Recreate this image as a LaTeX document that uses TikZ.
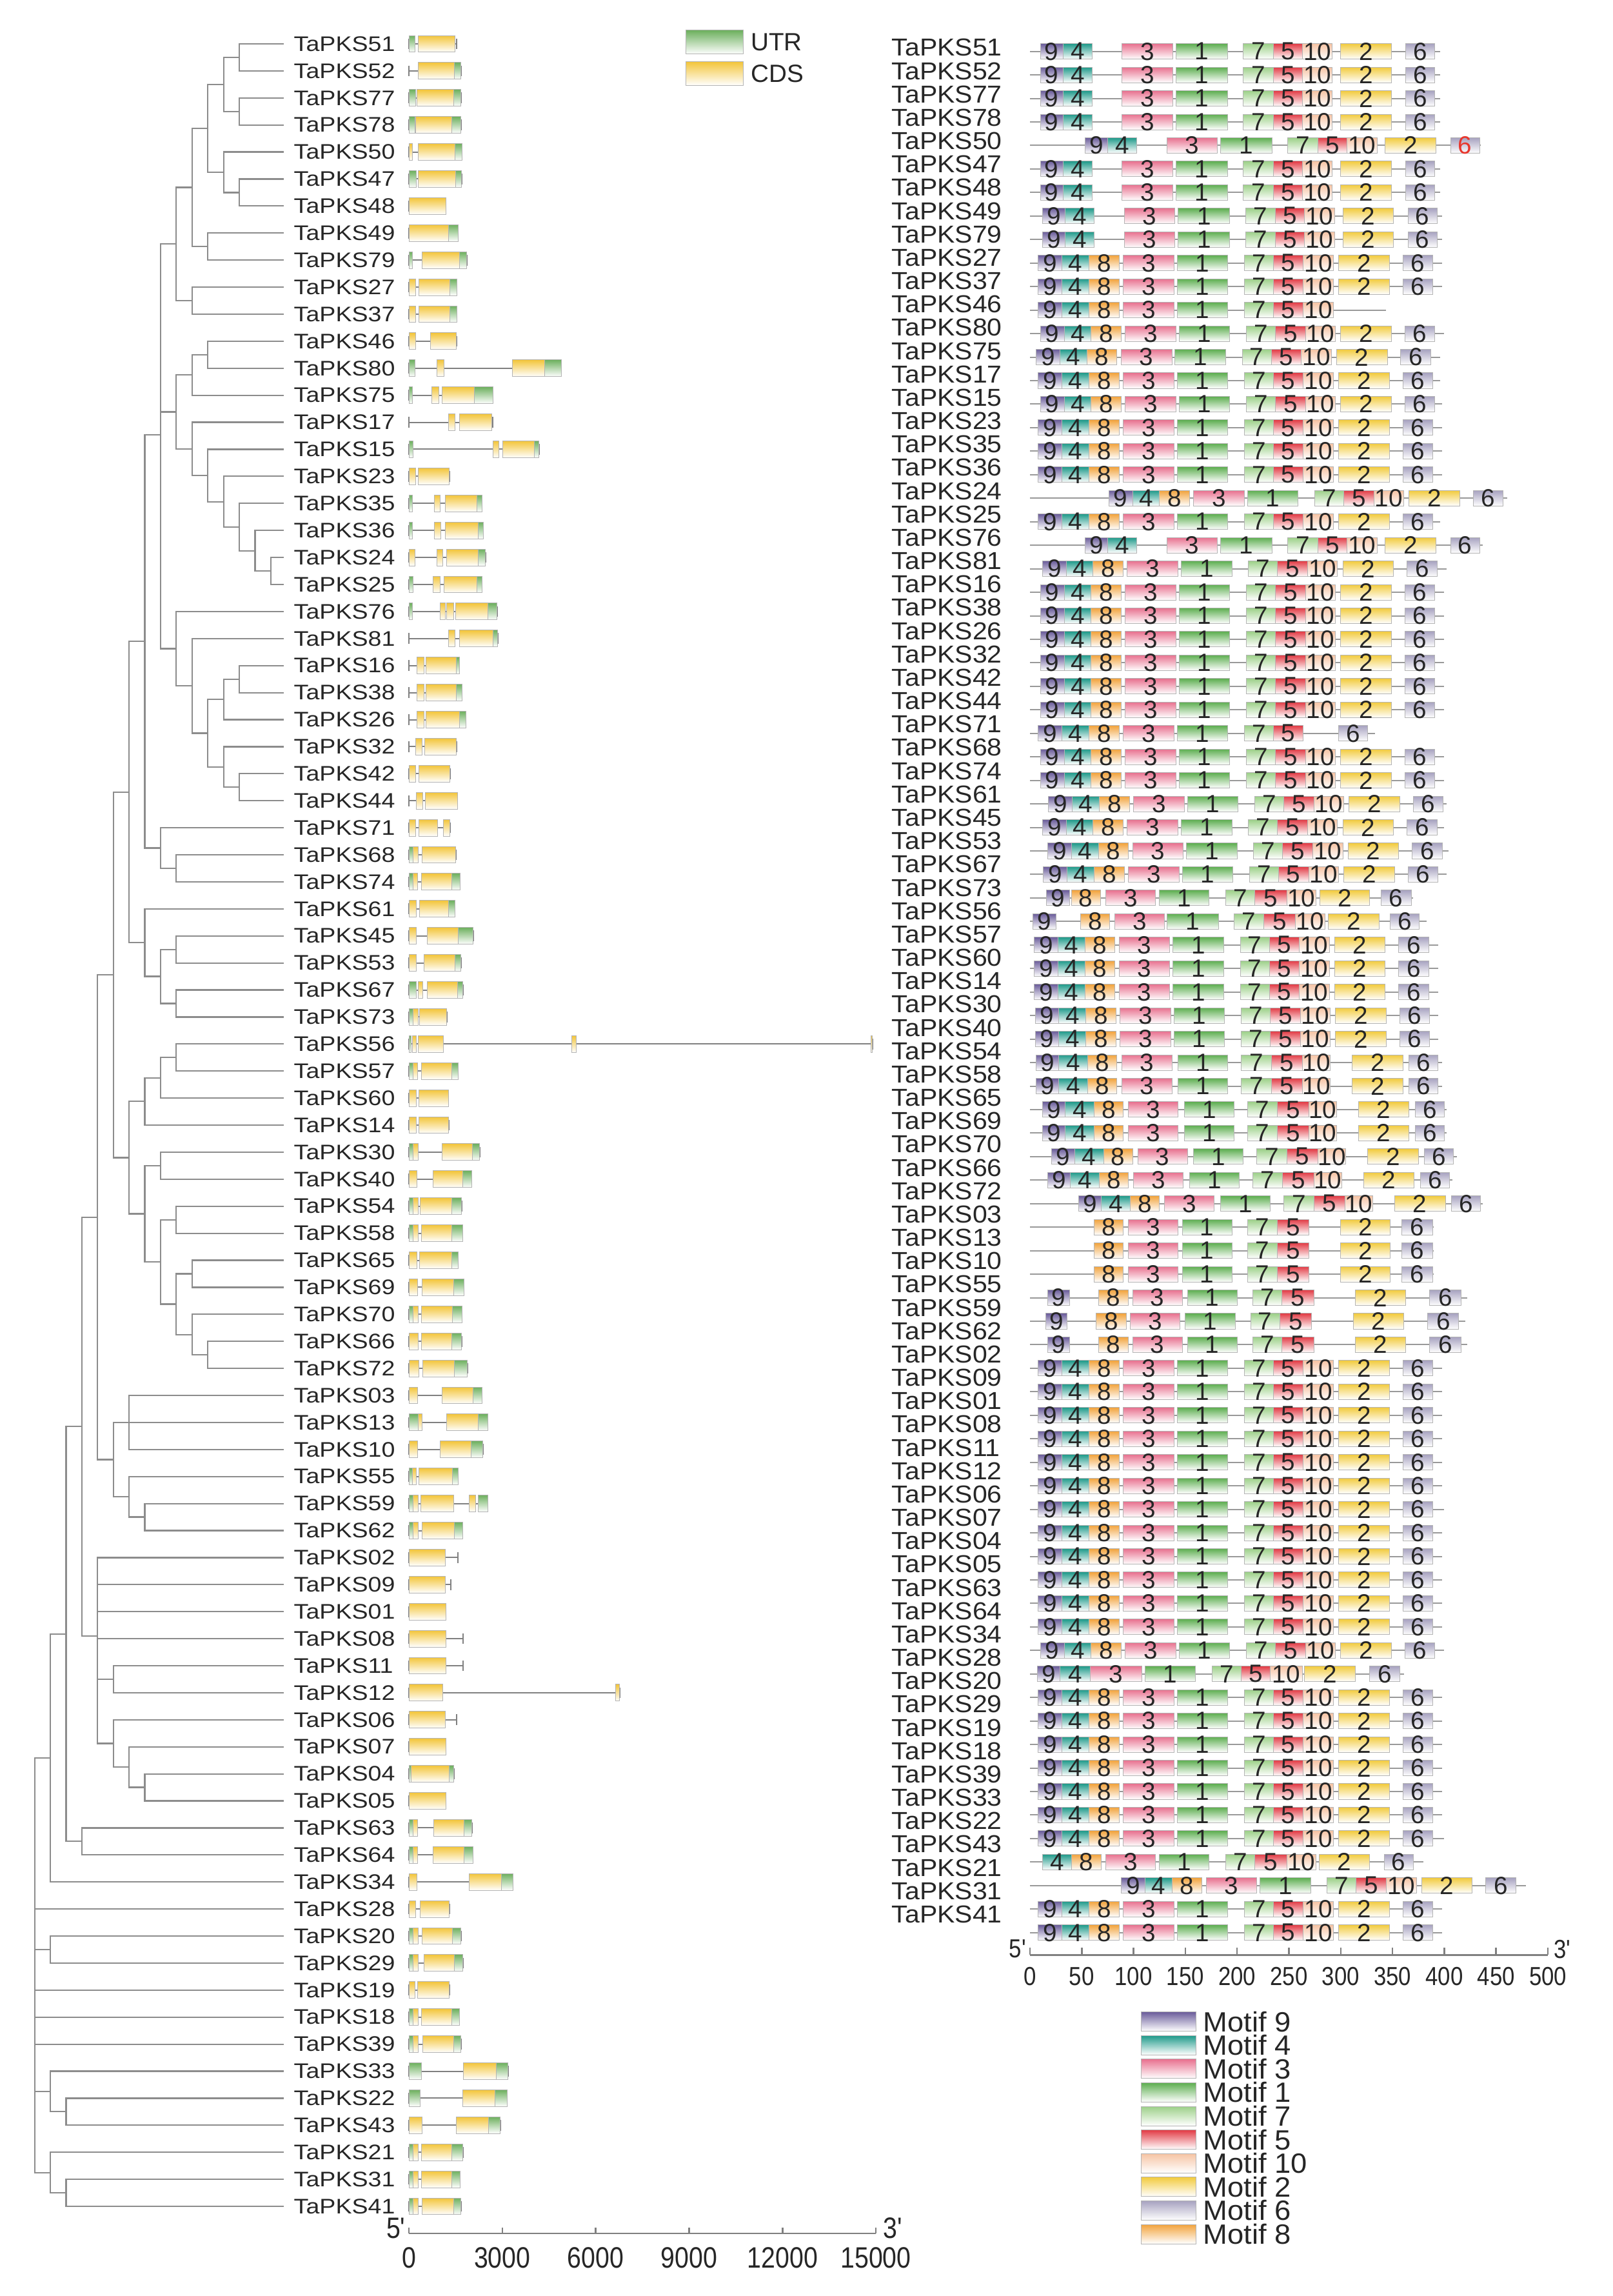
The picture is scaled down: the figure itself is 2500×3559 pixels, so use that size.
\documentclass[tikz,border=0pt]{standalone}
\usepackage{fontspec}
\setmainfont{Liberation Sans}
\newfontfamily\labelsf[FakeStretch=1.15]{Liberation Sans}
\newfontfamily\rightsf[FakeStretch=1.08]{Liberation Sans}
\newfontfamily\legendsf[FakeStretch=1.05]{Liberation Sans}
\newfontfamily\narrowsf[FakeStretch=0.86]{Liberation Sans}
\usetikzlibrary{positioning}

\definecolor{treegrey}{HTML}{8C8C8C}
\definecolor{introngrey}{HTML}{808080}
\definecolor{edgegrey}{HTML}{B4B4B4}
\definecolor{exonc}{HTML}{F3C53A}
\definecolor{exonu}{HTML}{6DB05E}
\definecolor{mot9}{HTML}{6A5C9A}
\definecolor{mot4}{HTML}{1F9A8A}
\definecolor{mot3}{HTML}{E8718F}
\definecolor{mot1}{HTML}{5DAE50}
\definecolor{mot7}{HTML}{9CD088}
\definecolor{mot5}{HTML}{E23B45}
\definecolor{mot10}{HTML}{F6C3A3}
\definecolor{mot2}{HTML}{F2CB3E}
\definecolor{mot6}{HTML}{A7A2C0}
\definecolor{mot8}{HTML}{F2A33C}
\definecolor{sixred}{HTML}{E8372D}

% genes in tree order
\newcommand\genelist{51,52,77,78,50,47,48,49,79,27,37,46,80,75,17,15,23,35,36,24,%
25,76,81,16,38,26,32,42,44,71,68,74,61,45,53,67,73,56,57,60,14,30,40,54,58,65,69,%
70,66,72,03,13,10,55,59,62,02,09,01,08,11,12,06,07,04,05,63,64,34,28,20,29,19,18,%
39,33,22,43,21,31,41}

% motif layouts (motif/start/end in aa)
\newcommand\patS{9/8/31,4/31/57,8/57/86,3/90/139,1/142/191,7/207/235,5/235/264,10/264/293,2/298/347,6/360/389}
\newcommand\patA{9/10/32,4/32/60,3/89/138,1/141/191,7/206/235,5/235/263,10/263/292,2/300/349,6/363/391}
\newcommand\patT{9/8/31,4/31/57,8/57/86,3/90/139,1/142/191,7/207/235,5/235/264,10/264/293}
\newcommand\patK{9/8/31,4/31/57,8/57/86,3/90/139,1/142/191,7/207/235,5/235/264,6/298/326}
\newcommand\patB{9/16/38,8/40/68,3/73/121,1/125/173,7/189/217,5/217/248,10/248/276,2/280/328,6/339/368}
\newcommand\patC{9/3/25,8/49/77,3/82/130,1/132/182,7/197/226,5/226/256,10/256/285,2/288/337,6/348/376}
\newcommand\patL{9/12/34,4/34/62,8/62/90,3/95/143,1/149/197,7/210/239,5/239/269,10/269/296,2/317/366,6/372/400}
\newcommand\patD{8/62/90,3/95/143,1/147/195,7/210/239,5/239/269,2/300/348,6/359/389}
\newcommand\patE{9/17/38,8/66/95,3/99/147,1/152/200,7/215/243,5/243/274,2/314/363,6/386/416}
\newcommand\patF{9/7/29,4/29/58,3/58/108,1/111/160,7/176/204,5/204/232,10/232/263,2/265/314,6/328/357}
\newcommand\patG{4/12/40,8/40/69,3/73/121,1/125/173,7/189/217,5/217/248,10/248/276,2/279/328,6/342/370}

\tikzset{%
    branch/.style={draw=treegrey, line width=0.22mm},
    intron/.style={draw=introngrey, line width=0.2mm},
    exon/.style={draw=edgegrey, line width=0.1mm, bottom color=white},
    motif/.style={draw=edgegrey, line width=0.1mm, bottom color=white},
    bar/.style={draw=introngrey!80, line width=0.2mm},
    axisline/.style={draw=introngrey, line width=0.25mm},
    leaflab/.style={anchor=west, inner sep=0pt, text=black!85,
        font=\labelsf\fontsize{9.3}{11}\selectfont},
    motlab/.style={anchor=west, inner sep=0pt, text=black!85,
        font=\rightsf\fontsize{10.8}{12}\selectfont},
    motnum/.style={inner sep=0pt, text=black!85,
        font=\fontsize{11}{12}\selectfont},
    ticklab/.style={inner sep=0pt, text=black!85,
        font=\narrowsf\fontsize{13}{15}\selectfont},
    aalab/.style={inner sep=0pt, text=black!85,
        font=\narrowsf\fontsize{11.5}{13}\selectfont},
    keybox/.style={draw=edgegrey, line width=0.1mm, bottom color=white,
        inner sep=0pt},
    legtext/.style={anchor=west, inner sep=0pt, text=black!85,
        font=\fontsize{11}{13}\selectfont},
    motlegtext/.style={anchor=west, inner sep=0pt, text=black!85,
        font=\legendsf\fontsize{12.3}{14}\selectfont},
}

\begin{document}
\begin{tikzpicture}[x=0.1mm, y=-0.1mm]
    \useasboundingbox (0,0) rectangle (2500,3559);

    %%%%%%%%
    % Tree %
    %%%%%%%%
    \begin{scope}[shift={(0,26.1)}, y=-4.19mm]
        \foreach \g [count=\r] in \genelist {%
            \coordinate (t\g) at (440,\r);
            \node[leaflab] (g\g) at (455,\r) {TaPKS\g};
        };
        % inner nodes: name/depth/row
        \foreach \n/\d/\r in {%
            n1/13/1.5, n2/13/3.5, n3/12/2.5, n4/13/6.5, n5/12/5.75,
            n6/11/4.125, n7/11/8.5, n8/10/6.3125, n9/10/10.5, n10/9/8.40625,
            n11/11/12.5, n12/10/13.25, n13/15/20.5, n14/14/19.75, n15/13/18.875,
            n16/12/17.9375, n17/11/16.96875, n18/10/15.984, n19/9/14.617,
            n20/13/24.5, n21/12/25.25, n22/13/28.5, n23/12/27.75, n24/11/26.5,
            n25/10/24.75, n26/9/23.375, n27/8/15.466, n28/9/31.5, n29/8/30.75,
            n30/7/23.108, n31/9/34.5, n32/9/36.5, n33/8/35.5, n34/7/34.25,
            n35/6/28.679, n36/9/38.5, n37/8/39.25, n38/7/40.125, n39/8/42.5,
            n40/9/44.5, n41/10/46.5, n42/11/49.5, n43/10/48.75, n44/9/47.625,
            n45/8/46.0625, n46/7/44.281, n47/6/42.203, n48/5/35.441, n49/6/52,
            n50/7/55.5, n51/6/54.75, n52/5/53.375, n53/4/44.408, n54/5/61.5,
            n55/7/65.5, n56/6/64.75, n57/5/63.875, n58/4/59.896, n59/3/52.152,
            n60/3/67.5, n61/2/59.826, n62/1/64.413, n63/1/71.5, n64/2/77.5,
            n65/1/76.75, n66/2/80.5, n67/1/79.75, root/0/73.05%
        }{%
            \coordinate (\n) at ({53.6+24.42*\d},\r);
        };
        \foreach \p/\c in {%
            n1/t51, n1/t52, n2/t77, n2/t78, n3/n1, n3/n2, n4/t47, n4/t48,
            n5/t50, n5/n4, n6/n3, n6/n5, n7/t49, n7/t79, n8/n6, n8/n7,
            n9/t27, n9/t37, n10/n8, n10/n9, n11/t46, n11/t80, n12/n11, n12/t75,
            n13/t24, n13/t25, n14/t36, n14/n13, n15/t35, n15/n14, n16/t23,
            n16/n15, n17/t15, n17/n16, n18/t17, n18/n17, n19/n12, n19/n18,
            n20/t16, n20/t38, n21/n20, n21/t26, n22/t42, n22/t44, n23/t32,
            n23/n22, n24/n21, n24/n23, n25/t81, n25/n24, n26/t76, n26/n25,
            n27/n10, n27/n19, n27/n26, n28/t68, n28/t74, n29/t71, n29/n28,
            n30/n27, n30/n29, n31/t45, n31/t53, n32/t67, n32/t73, n33/n31,
            n33/n32, n34/t61, n34/n33, n35/n30, n35/n34, n36/t56, n36/t57,
            n37/n36, n37/t60, n38/n37, n38/t14, n39/t30, n39/t40, n40/t54,
            n40/t58, n41/t65, n41/t69, n42/t66, n42/t72, n43/t70, n43/n42,
            n44/n41, n44/n43, n45/n40, n45/n44, n46/n39, n46/n45, n47/n38,
            n47/n46, n48/n35, n48/n47, n49/t03, n49/t13, n49/t10, n50/t59,
            n50/t62, n51/t55, n51/n50, n52/n49, n52/n51, n53/n48, n53/n52,
            n54/t11, n54/t12, n55/t04, n55/t05, n56/t07, n56/n55, n57/t06,
            n57/n56, n58/t02, n58/t09, n58/t01, n58/t08, n58/n54, n58/n57,
            n59/n53, n59/n58, n60/t63, n60/t64, n61/n59, n61/n60, n62/n61,
            n62/t34, n63/t20, n63/t29, n64/t22, n64/t43, n65/t33, n65/n64,
            n66/t31, n66/t41, n67/t21, n67/n66, root/n62, root/t28, root/n63,
            root/t19, root/t18, root/t39, root/n65, root/n67%
        }{%
            \draw[branch] (\p) |- (\c);
        };
    \end{scope}

    %%%%%%%%%%%%%%%%%%%
    % Gene structures %
    %%%%%%%%%%%%%%%%%%%
    \begin{scope}[shift={(634,26.1)}, x=4.827mm, y=-4.19mm]
        \foreach \r/\len/\parts in {%
            1/1.53/{u/0/0.19,c/0.30/1.49},
            2/1.67/{c/0.30/1.46,u/1.46/1.67},
            3/1.67/{u/0/0.21,c/0.26/1.43,u/1.43/1.67},
            4/1.67/{u/0/0.19,c/0.21/1.37,u/1.37/1.67},
            5/1.70/{c/0/0.11,c/0.30/1.49,u/1.49/1.70},
            6/1.69/{u/0/0.24,c/0.30/1.51,u/1.51/1.69},
            7/1.19/{c/0/1.19},
            8/1.58/{c/0/1.28,u/1.28/1.58},
            9/1.86/{u/0/0.11,c/0.43/1.62,u/1.62/1.86},
            10/1.54/{c/0/0.21,c/0.32/1.32,u/1.32/1.54},
            11/1.54/{c/0/0.21,c/0.32/1.32,u/1.32/1.54},
            12/1.53/{c/0/0.21,c/0.69/1.53},
            13/4.89/{u/0/0.19,c/0.90/1.12,c/3.33/4.36,u/4.36/4.89},
            14/2.70/{u/0/0.12,c/0.74/0.96,c/1.07/2.10,u/2.10/2.70},
            15/2.70/{c/1.27/1.48,c/1.62/2.67},
            16/4.18/{u/0/0.14,c/2.70/2.90,c/3.01/4.02,u/4.02/4.18},
            17/1.30/{c/0/0.21,c/0.30/1.30},
            18/2.35/{u/0/0.11,c/0.81/1.01,c/1.16/2.18,u/2.18/2.35},
            19/2.39/{u/0/0.11,c/0.81/1.03,c/1.16/2.22,u/2.22/2.39},
            20/2.46/{c/0/0.19,c/0.90/1.09,c/1.21/2.22,u/2.22/2.46},
            21/2.35/{u/0/0.14,c/0.77/1.01,c/1.12/2.18,u/2.18/2.35},
            22/2.83/{u/0/0.11,c/1.00/1.16,c/1.21/1.44,c/1.51/2.53,u/2.53/2.83},
            23/2.85/{c/1.27/1.48,c/1.62/2.70,u/2.70/2.85},
            24/1.62/{c/0.26/0.48,c/0.54/1.53,u/1.53/1.62},
            25/1.70/{c/0.26/0.48,c/0.54/1.53,u/1.53/1.70},
            26/1.83/{c/0.26/0.48,c/0.54/1.62,u/1.62/1.83},
            27/1.53/{c/0.21/0.42,c/0.51/1.53},
            28/1.32/{c/0/0.21,c/0.32/1.32},
            29/1.56/{c/0.24/0.45,c/0.53/1.56},
            30/1.32/{c/0/0.21,c/0.32/0.93,c/1.11/1.32},
            31/1.51/{u/0/0.14,c/0.14/0.30,c/0.43/1.51},
            32/1.64/{u/0/0.14,c/0.14/0.27,c/0.40/1.37,u/1.37/1.64},
            33/1.48/{c/0/0.24,c/0.35/1.28,u/1.28/1.48},
            34/2.07/{c/0/0.24,c/0.58/1.58,u/1.58/2.07},
            35/1.67/{c/0/0.24,c/0.49/1.48,u/1.48/1.67},
            36/1.74/{u/0/0.24,c/0.30/0.45,c/0.58/1.56,u/1.56/1.74},
            37/1.22/{u/0/0.14,c/0.14/0.30,c/0.35/1.22},
            38/14.89/{u/0/0.08,c/0.11/0.24,c/0.30/1.11,c/5.23/5.37,c/14.84/14.89},
            39/1.58/{u/0/0.14,c/0.14/0.27,c/0.40/1.37,u/1.37/1.58},
            40/1.27/{c/0/0.24,c/0.32/1.27},
            41/1.28/{c/0/0.24,c/0.32/1.28},
            42/2.27/{u/0/0.14,c/0.14/0.30,c/1.06/2.04,u/2.04/2.27},
            43/2.01/{c/0/0.26,c/0.77/1.72,u/1.72/2.01},
            44/1.69/{u/0/0.14,c/0.14/0.30,c/0.37/1.37,u/1.37/1.69},
            45/1.72/{u/0/0.14,c/0.14/0.30,c/0.40/1.37,u/1.37/1.72},
            46/1.58/{c/0/0.26,c/0.35/1.37,u/1.37/1.58},
            47/1.77/{c/0/0.27,c/0.43/1.43,u/1.43/1.77},
            48/1.70/{u/0/0.14,c/0.14/0.30,c/0.40/1.40,u/1.40/1.70},
            49/1.69/{c/0/0.30,c/0.40/1.38,u/1.38/1.69},
            50/1.88/{c/0/0.32,c/0.45/1.46,u/1.46/1.88},
            51/2.35/{c/0/0.27,c/1.07/2.06,u/2.06/2.35},
            52/2.53/{u/0/0.30,c/0.30/0.42,c/1.21/2.22,u/2.22/2.53},
            53/2.38/{c/0/0.27,c/1.00/1.99,u/1.99/2.38},
            54/1.58/{u/0/0.11,c/0.11/0.24,c/0.33/1.40,u/1.40/1.58},
            55/2.53/{u/0/0.14,c/0.14/0.30,c/0.38/1.43,c/1.93/2.14,u/2.22/2.53},
            56/1.72/{u/0/0.14,c/0.14/0.30,c/0.43/1.46,u/1.46/1.72},
            57/1.58/{c/0/1.16},
            58/1.35/{c/0/1.16},
            59/1.19/{c/0/1.19},
            60/1.74/{c/0/1.19},
            61/1.74/{c/0/1.19},
            62/6.77/{c/0/1.09,c/6.63/6.77},
            63/1.53/{c/0/1.16},
            64/1.19/{c/0/1.19},
            65/1.44/{u/0/0.08,c/0.08/1.30,u/1.30/1.44},
            66/1.19/{c/0/1.19},
            67/2.02/{u/0/0.14,c/0.14/0.27,c/0.79/1.77,u/1.77/2.02},
            68/2.06/{u/0/0.14,c/0.14/0.27,c/0.77/1.77,u/1.77/2.06},
            69/3.34/{c/0/0.26,c/1.93/2.97,u/2.97/3.34},
            70/1.30/{c/0/0.21,c/0.37/1.30},
            71/1.67/{u/0/0.14,c/0.14/0.30,c/0.43/1.40,u/1.40/1.67},
            72/1.74/{u/0/0.14,c/0.14/0.30,c/0.49/1.46,u/1.46/1.74},
            73/1.30/{c/0/0.19,c/0.27/1.30},
            74/1.62/{u/0/0.14,c/0.14/0.30,c/0.40/1.38,u/1.38/1.62},
            75/1.67/{u/0/0.14,c/0.14/0.30,c/0.45/1.44,u/1.44/1.67},
            76/3.18/{u/0/0.40,c/1.75/2.80,u/2.80/3.18},
            77/3.15/{u/0/0.37,c/1.72/2.76,u/2.76/3.15},
            78/2.94/{c/0/0.42,c/1.53/2.55,u/2.55/2.94},
            79/1.74/{u/0/0.14,c/0.14/0.30,c/0.40/1.38,u/1.38/1.74},
            80/1.64/{u/0/0.14,c/0.14/0.30,c/0.40/1.38,u/1.38/1.64},
            81/1.67/{u/0/0.14,c/0.14/0.30,c/0.42/1.43,u/1.43/1.67}%
        }{%
            \draw[intron] (0,\r) -- (\len,\r);
            \draw[intron] (0,{\r-0.2}) -- (0,{\r+0.2})
                (\len,{\r-0.2}) -- (\len,{\r+0.2});
            \foreach \t/\a/\b in \parts {%
                \shade[exon, top color=exon\t] (\a,{\r-0.31}) rectangle (\b,{\r+0.31});
            };
        };

        % scale
        \draw[axisline] (0,82) -- (15,82);
        \foreach \k in {0,3,...,15}{%
            \draw[axisline] (\k,82) -- (\k,81.78);
            \node[ticklab] (kb\k) at (\k,82.9) {\ifnum\k=0 0\else\k000\fi};
        };
        \node[ticklab] (kb5p) at (-0.42,81.8) {5'};
        \node[ticklab] (kb3p) at (15.55,81.8) {3'};
    \end{scope}

    % UTR / CDS key
    \node[keybox, top color=exonu, minimum width=8.9mm, minimum height=3.7mm]
        (keyutr) at (1107.5,65.5) {};
    \node[keybox, top color=exonc, minimum width=8.9mm, minimum height=3.7mm]
        (keycds) at (1107.5,114) {};
    \node[legtext, right=1.1mm of keyutr] (utrtext) {UTR};
    \node[legtext, right=1.1mm of keycds] (cdstext) {CDS};

    %%%%%%%%%%
    % Motifs %
    %%%%%%%%%%
    \foreach \g [count=\r] in \genelist {%
        \node[motlab] (m\g) at (1382,{37.63+36.17*\r}) {TaPKS\g};
    };

    \begin{scope}[shift={(1597,43.25)}, x=0.1606mm, y=-3.645mm]
        \foreach \r/\p/\s/\e in {%
            1/A/0/396, 2/A/0/396, 3/A/0/396, 4/A/0/396, 5/A/43/435,
            6/A/0/396, 7/A/0/396, 8/A/2/398, 9/A/2/398, 10/S/0/398,
            11/S/0/398, 12/T/0/344, 13/S/2/400, 14/S/-2/396, 15/S/0/396,
            16/S/2/398, 17/S/0/398, 18/S/0/398, 19/S/0/398, 20/S/68/461,
            21/S/0/396, 22/A/43/437, 23/S/4/402, 24/S/2/400, 25/S/2/400,
            26/S/2/400, 27/S/2/400, 28/S/2/400, 29/S/2/400, 30/K/0/333,
            31/S/2/400, 32/S/2/400, 33/S/10/402, 34/S/4/400, 35/S/9/404,
            36/S/5/402, 37/B/0/370, 38/C/0/383, 39/S/-4/394, 40/S/-4/394,
            41/S/-4/394, 42/S/-3/394, 43/S/-3/394, 44/L/-6/398, 45/L/-6/398,
            46/L/0/402, 47/L/0/402, 48/L/9/412, 49/L/5/408, 50/L/35/437,
            51/D/0/390, 52/D/0/390, 53/D/0/390, 54/E/0/422, 55/E/-2/420,
            56/E/0/422, 57/S/0/398, 58/S/0/398, 59/S/0/398, 60/S/0/398,
            61/S/0/398, 62/S/0/398, 63/S/0/400, 64/S/0/398, 65/S/0/398,
            66/S/0/398, 67/S/0/398, 68/S/0/398, 69/S/2/400, 70/F/0/361,
            71/S/0/398, 72/S/0/398, 73/S/0/398, 74/S/0/398, 75/S/0/398,
            76/S/0/398, 77/S/0/400, 78/G/0/380, 79/S/80/479, 80/S/0/398,
            81/S/0/398%
        }{%
            \draw[bar] (0,\r) -- (\e,\r);
            \expandafter\let\expandafter\curpat\csname pat\p\endcsname
            \foreach \m/\a/\b in \curpat {%
                \def\tc{black!85}
                \ifnum\r=5 \ifnum\m=6 \def\tc{sixred}\fi\fi
                \shade[motif, top color=mot\m]
                    ({\a+\s},{\r-0.33}) rectangle ({\b+\s},{\r+0.33});
                \node[motnum, text=\tc] (b\r-\m) at ({(\a+\b)/2+\s},\r) {\m};
            };
        };

        % scale
        \draw[axisline] (0,81.95) -- (500,81.95);
        \foreach \k in {0,50,...,500}{%
            \draw[axisline] (\k,81.95) -- (\k,81.65);
            \node[aalab] (aa\k) at (\k,82.87) {\k};
        };
        \node[aalab] (aa5p) at (-12,81.7) {5'};
        \node[aalab] (aa3p) at (514,81.7) {3'};
    \end{scope}

    % motif key
    \foreach \m [count=\i] in {9,4,3,1,7,5,10,2,6,8}{%
        \node[keybox, top color=mot\m, minimum width=8.5mm, minimum height=3mm]
            (key\m) at (1812,{3097+36.6*\i}) {};
        \node[motlegtext, right=1mm of key\m] (keytext\m) {Motif \m};
    };

\end{tikzpicture}
\end{document}
